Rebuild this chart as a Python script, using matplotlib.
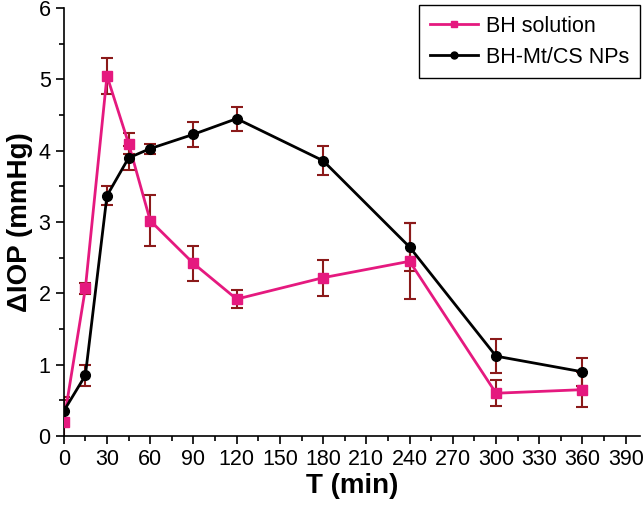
import numpy as np
import matplotlib.pyplot as plt
from matplotlib.ticker import MultipleLocator

plt.rcParams['font.family'] = ['Liberation Sans', 'DejaVu Sans']

time_min = [0, 15, 30, 45, 60, 90, 120, 180, 240, 300, 360]
bh_solution = [0.2, 2.07, 5.05, 4.1, 3.02, 2.42, 1.92, 2.22, 2.45, 0.6, 0.65]
bh_solution_err = [0.3, 0.08, 0.25, 0.15, 0.36, 0.25, 0.13, 0.25, 0.53, 0.18, 0.25]
bh_nps = [0.35, 0.85, 3.37, 3.9, 4.03, 4.23, 4.45, 3.86, 2.65, 1.12, 0.9]
bh_nps_err = [0.2, 0.15, 0.13, 0.17, 0.07, 0.18, 0.17, 0.2, 0.33, 0.24, 0.2]

err_color = '#8b1a1a'

fig = plt.figure(figsize=(6.44, 5.07), dpi=100)
ax = fig.add_axes([0.099, 0.14, 0.895, 0.844])

ax.errorbar(time_min, bh_solution, yerr=bh_solution_err, fmt='none',
            ecolor=err_color, elinewidth=1.5, capsize=4, capthick=1.5, zorder=2)
ax.errorbar(time_min, bh_nps, yerr=bh_nps_err, fmt='none',
            ecolor=err_color, elinewidth=1.5, capsize=4, capthick=1.5, zorder=2)
ax.plot(time_min, bh_solution, color='#e5197f', marker='s', markersize=7,
        linewidth=2, label='BH solution', zorder=3)
ax.plot(time_min, bh_nps, color='black', marker='o', markersize=7,
        linewidth=2, label='BH-Mt/CS NPs', zorder=3)

ax.set_xlim(0, 400)
ax.set_ylim(0, 6)
ax.xaxis.set_major_locator(MultipleLocator(30))
ax.xaxis.set_minor_locator(MultipleLocator(15))
ax.yaxis.set_major_locator(MultipleLocator(1))
ax.yaxis.set_minor_locator(MultipleLocator(0.5))
ax.spines['top'].set_visible(False)
ax.spines['right'].set_visible(False)
ax.spines['left'].set_linewidth(1.2)
ax.spines['bottom'].set_linewidth(1.2)
ax.tick_params(which='major', length=6, width=1.2, labelsize=15.5)
ax.tick_params(which='minor', length=3.5, width=1.2)

ax.set_xlabel('T (min)', fontsize=20, fontweight='bold', labelpad=2)
ax.set_ylabel('ΔIOP (mmHg)', fontsize=20, fontweight='bold', labelpad=4)

leg = ax.legend(loc='upper right', fontsize=15.5, fancybox=False, framealpha=1,
                edgecolor='black', handlelength=2.2, borderpad=0.5,
                labelspacing=0.45, borderaxespad=0, handletextpad=0.4,
                bbox_to_anchor=(1.0, 1.007))
leg.get_frame().set_linewidth(1.0)
for h in leg.legend_handles:
    h.set_markersize(5)

fig.savefig('out.png', dpi=100)
